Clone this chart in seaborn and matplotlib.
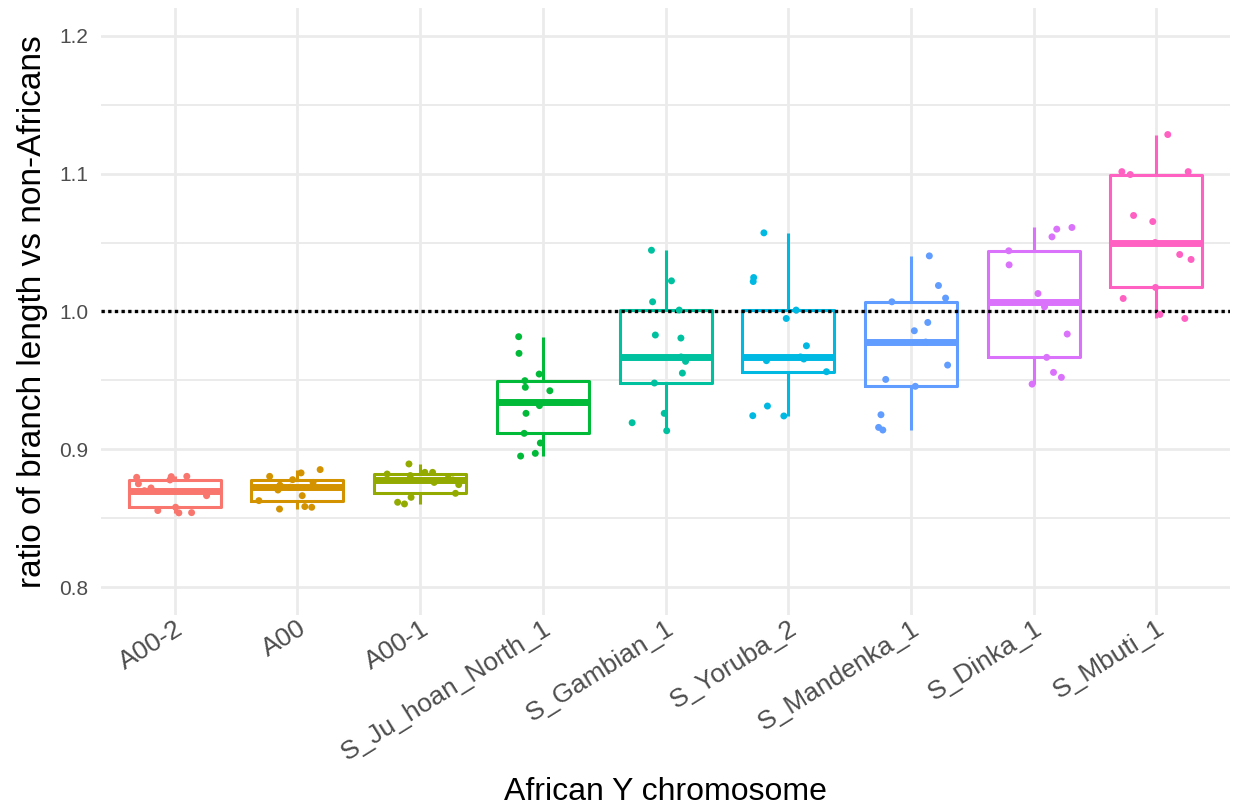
import numpy as np
import pandas as pd
import seaborn as sns
import matplotlib.pyplot as plt
from matplotlib.ticker import MultipleLocator

# ---- data ----
categories = ["A00-2", "A00", "A00-1", "S_Ju_hoan_North_1", "S_Gambian_1",
              "S_Yoruba_2", "S_Mandenka_1", "S_Dinka_1", "S_Mbuti_1"]

a00_2 = [0.8539, 0.8541, 0.8556, 0.8580, 0.8664, 0.8676, 0.8700, 0.8720,
         0.8750, 0.8778, 0.8797, 0.8802, 0.8804]
a00 = [0.8567, 0.8580, 0.8585, 0.8628, 0.8664, 0.8705, 0.8725, 0.8740,
       0.8760, 0.8780, 0.8804, 0.8829, 0.8853]
a00_1 = [0.8604, 0.8616, 0.8652, 0.8681, 0.8744, 0.8760, 0.8778, 0.8790,
         0.8810, 0.8821, 0.8833, 0.8833, 0.8894]
ju_hoan = [0.8951, 0.8971, 0.9046, 0.9116, 0.9261, 0.9317, 0.9340, 0.9425,
           0.9450, 0.9498, 0.9546, 0.9696, 0.9817]
gambian = [0.9135, 0.9193, 0.9261, 0.9481, 0.9553, 0.9638, 0.9670, 0.9807,
           0.9829, 1.0010, 1.0070, 1.0222, 1.0444]
yoruba = [0.9242, 0.9244, 0.9314, 0.9563, 0.9643, 0.9655, 0.9670, 0.9751,
          0.9949, 1.0010, 1.0217, 1.0246, 1.0570]
mandenka = [0.9140, 0.9159, 0.9251, 0.9457, 0.9507, 0.9611, 0.9778, 0.9860,
            0.9920, 1.0070, 1.0097, 1.0188, 1.0403]
dinka = [0.9473, 0.9522, 0.9558, 0.9667, 0.9836, 1.0034, 1.0065, 1.0130,
         1.0338, 1.0440, 1.0541, 1.0597, 1.0609]
mbuti = [0.9949, 0.9978, 1.0094, 1.0174, 1.0377, 1.0413, 1.0500, 1.0652,
         1.0696, 1.0993, 1.1014, 1.1014, 1.1283]

series = [a00_2, a00, a00_1, ju_hoan, gambian, yoruba, mandenka, dinka, mbuti]
palette = ["#F8766D", "#D39200", "#93AA00", "#00BA38", "#00C19F",
           "#00B9E3", "#619CFF", "#DB72FB", "#FF61C3"]
y_ticks = [0.8, 0.9, 1.0, 1.1, 1.2]
reference_line = 1.0

df = pd.DataFrame({
    "chrom": np.repeat(categories, [len(s) for s in series]),
    "ratio": np.concatenate(series),
})

# ---- plot ----
sns.set_theme(style="whitegrid")
plt.rcParams["font.family"] = ["Liberation Sans", "DejaVu Sans"]

fig = plt.figure(figsize=(12.33, 8.10), dpi=100)
ax = fig.add_axes([0.082, 0.241, 0.9156, 0.749])
ax.set_axisbelow(True)

sns.boxplot(data=df, x="chrom", y="ratio", hue="chrom", order=categories,
            hue_order=categories, palette=palette, fill=False, width=0.75,
            linewidth=2.2, showcaps=False, showfliers=False,
            medianprops=dict(linewidth=5), legend=False, ax=ax)
for p in ax.patches:
    p.set_facecolor("white")

ax.axhline(reference_line, color="black", linestyle=(0, (1, 1)),
           linewidth=2.4, zorder=4)

np.random.seed(3)
sns.stripplot(data=df, x="chrom", y="ratio", hue="chrom", order=categories,
              hue_order=categories, palette=palette, jitter=0.33, size=5,
              linewidth=0, legend=False, zorder=5, ax=ax)

ax.set_ylim(0.78, 1.22)
ax.set_xlim(-0.6, len(categories) - 0.4)
ax.set_yticks(y_ticks)
ax.set_yticklabels([f"{t:.1f}" for t in y_ticks])
ax.yaxis.set_minor_locator(MultipleLocator(0.05))

ax.grid(which="major", axis="both", color="#EBEBEB", linewidth=2.0)
ax.grid(which="minor", axis="y", color="#EBEBEB", linewidth=1.4)
for s in ax.spines.values():
    s.set_visible(False)

ax.tick_params(axis="both", which="both", length=0, labelcolor="#4D4D4D")
ax.tick_params(axis="y", labelsize=15, pad=9)
ax.tick_params(axis="x", labelsize=19, pad=1)
for lab in ax.get_xticklabels():
    lab.set_rotation(32)
    lab.set_ha("right")
    lab.set_rotation_mode("anchor")

ax.set_xlabel("African Y chromosome", fontsize=23, color="black", labelpad=9)
ax.set_ylabel("ratio of branch length vs non-Africans", fontsize=24,
              color="black", labelpad=8)

fig.savefig("out.png", dpi=100)
